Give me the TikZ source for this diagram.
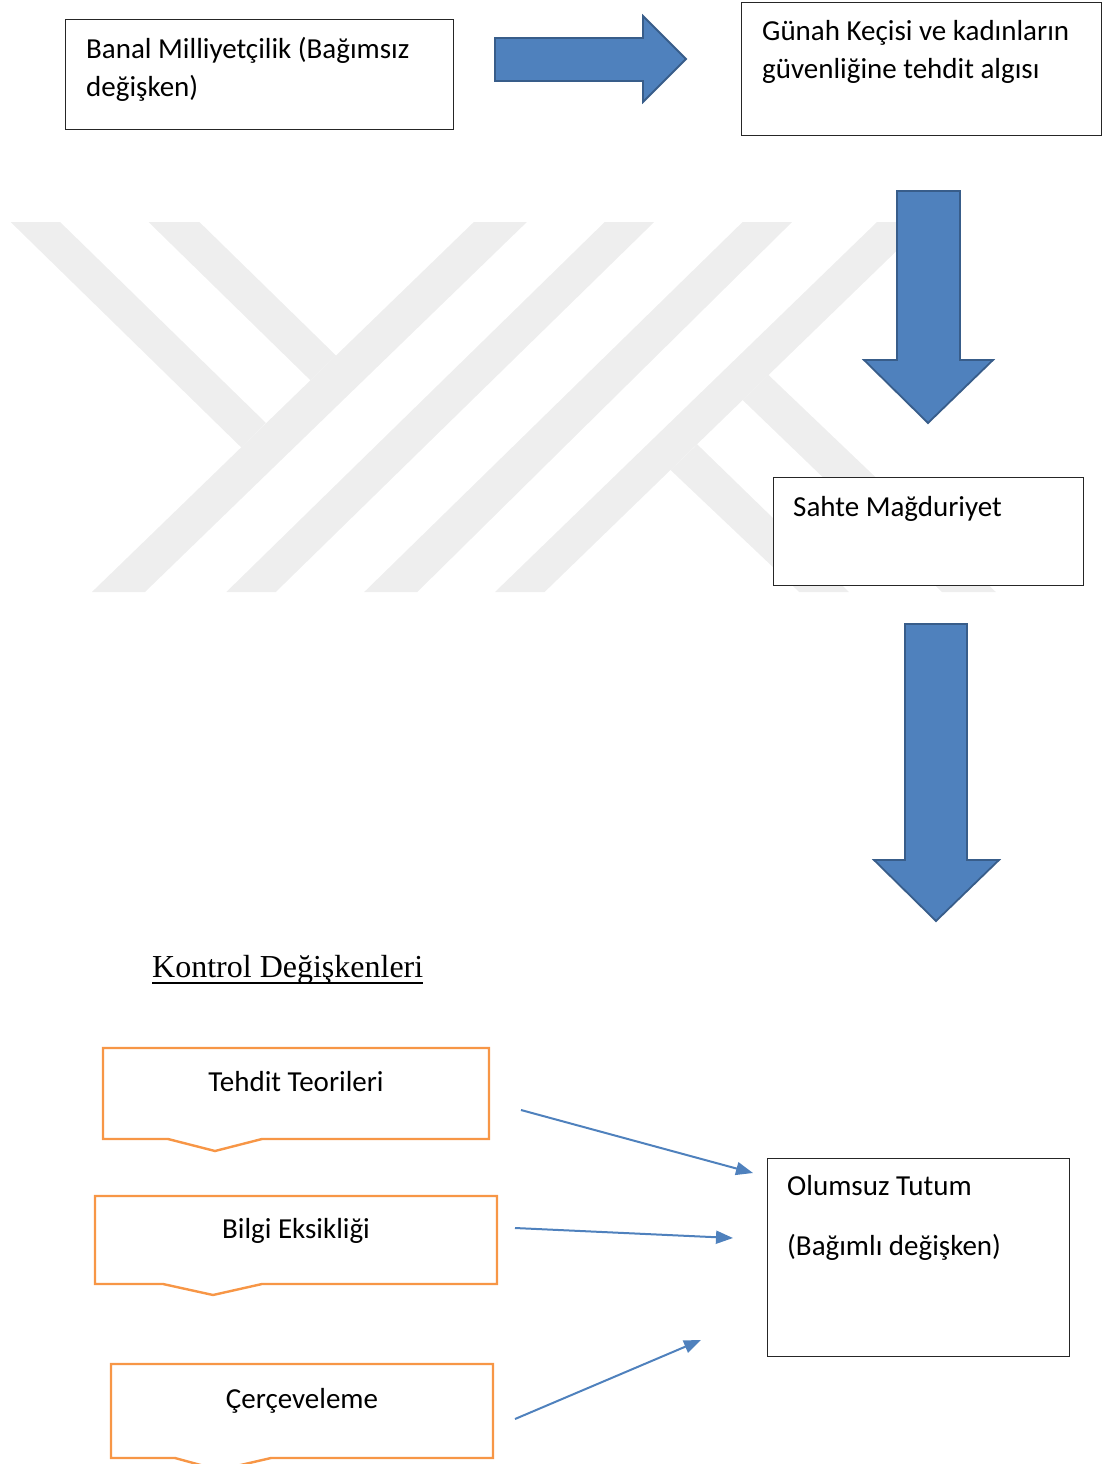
\documentclass[tikz,border=0pt]{standalone}
\usepackage{fontspec}
\setmainfont{Carlito}
\newfontfamily\timesfont{Liberation Serif}
\usepackage{tikz}
\usetikzlibrary{arrows.meta}

\definecolor{arrowblue}{HTML}{4F81BD}
\definecolor{arrowedge}{HTML}{385D8A}
\definecolor{ctrlorange}{HTML}{F79646}
\definecolor{markgray}{HTML}{EEEEEE}

\tikzset{
  box/.style={draw=black!85, line width=1.3, fill=white, anchor=north west, inner sep=0},
  boxtext/.style={anchor=base west, inner sep=0, align=left},
  blockarrow/.style={fill=arrowblue, draw=arrowedge, line width=1.8},
  ctrlbox/.style={draw=ctrlorange, line width=2.4, fill=white},
  ctrltext/.style={anchor=base, inner sep=0},
  link/.style={draw=arrowblue, line width=2, -{Triangle[length=17pt,width=13pt]}}
}

\begin{document}
\begin{tikzpicture}[x=1pt, y=-1pt, font=\fontsize{29}{38}\selectfont]
\useasboundingbox (0,0) rectangle (1103,1464);

% watermark
\fill [markgray] (10.6,222) -- (60.1,222) -- (266,423) -- (241.2,447.4) -- cycle;
\fill [markgray] (148.5,222) -- (199.4,222) -- (336,355.5) -- (310.4,380.3) -- cycle;
\fill [markgray] (473.8,222) -- (526.9,222) -- (145,592) -- (91.9,592) -- cycle;
\fill [markgray] (604.7,222) -- (654.2,222) -- (275.8,592) -- (226.3,592) -- cycle;
\fill [markgray] (742.6,222) -- (792.1,222) -- (417.3,592) -- (364.2,592) -- cycle;
\fill [markgray] (877,222) -- (926.4,222) -- (544.6,592) -- (495,592) -- cycle;
\fill [markgray] (742.6,400) -- (768.5,375) -- (995.8,592) -- (942,592) -- cycle;
\fill [markgray] (670.5,470) -- (697.3,444.4) -- (849,592) -- (799.2,592) -- cycle;

% main chain (base = last line of a text)
\node [box, minimum width=388pt, minimum height=110pt] (milli) at (65,19) {};
\node [boxtext] (millitext) at (86,96) {Banal Milliyetçilik (Bağımsız\\değişken)};

\draw [blockarrow] (495,38) -- (643,38) -- (643,16) -- (686,59) -- (643,102) -- (643,81) -- (495,81) -- cycle;

\node [box, minimum width=360pt, minimum height=133pt] (gunah) at (741,2) {};
\node [boxtext] (gunahtext) at (762,78) {Günah Keçisi ve kadınların\\güvenliğine tehdit algısı};

\draw [blockarrow] (897,191) -- (960,191) -- (960,360) -- (993,360) -- (928,423) -- (864,360) -- (897,360) -- cycle;

\node [box, minimum width=310pt, minimum height=108pt] (sahte) at (773,477) {};
\node [boxtext] (sahtetext) at (793,516) {Sahte Mağduriyet};

\draw [blockarrow] (905,624) -- (967,624) -- (967,860) -- (999,860) -- (936,921) -- (874,860) -- (905,860) -- cycle;

% control variables
\node [anchor=base west, inner sep=0, font=\timesfont\fontsize{32}{38}\selectfont] (kontrol) at (152,977) {Kontrol Değişkenleri};
\draw [line width=1.4] ([yshift=-6pt]kontrol.base west) -- ([yshift=-6pt]kontrol.base east);

\draw [ctrlbox] (103,1048) -- (489,1048) -- (489,1139) -- (262,1139) -- (215,1151) -- (168,1139) -- (103,1139) -- cycle;
\node [ctrltext] (tehdit) at (296,1091) {Tehdit Teorileri};

\draw [ctrlbox] (95,1196) -- (497,1196) -- (497,1284) -- (262,1284) -- (213,1295) -- (163,1284) -- (95,1284) -- cycle;
\node [ctrltext] (bilgi) at (296,1238) {Bilgi Eksikliği};

\draw [ctrlbox] (111,1364) -- (493,1364) -- (493,1458) -- (271,1458) -- (219,1470) -- (175,1458) -- (111,1458) -- cycle;
\node [ctrltext] (cerceve) at (302,1408) {Çerçeveleme};

\node [box, minimum width=302pt, minimum height=198pt] (olumsuz) at (767,1158) {};
\node [boxtext] (olumsuztext) at (787,1255) {Olumsuz Tutum\\[22pt](Bağımlı değişken)};

\coordinate (tehdit-out) at (521,1110);
\coordinate (bilgi-out) at (515,1228);
\coordinate (cerceve-out) at (515,1419);
\coordinate (olumsuz-a) at (753,1173);
\coordinate (olumsuz-b) at (733,1238);
\coordinate (olumsuz-c) at (701,1340);

\draw [link] (tehdit-out) -- (olumsuz-a);
\draw [link] (bilgi-out) -- (olumsuz-b);
\draw [link] (cerceve-out) -- (olumsuz-c);
\end{tikzpicture}
\end{document}
